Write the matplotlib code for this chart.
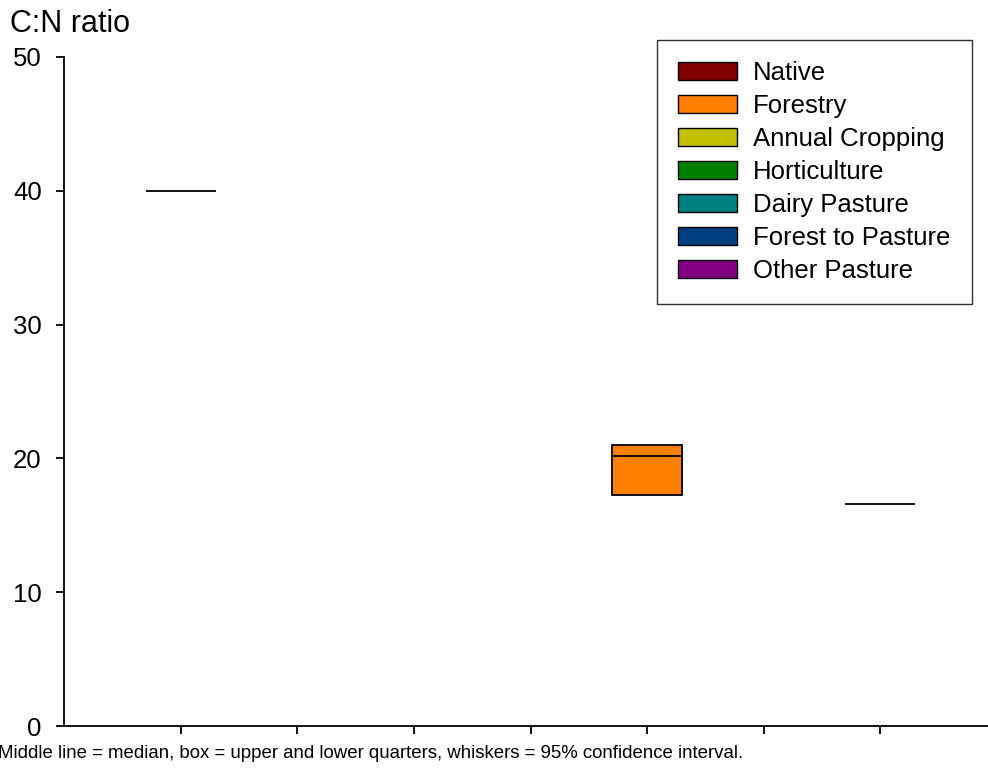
import matplotlib

matplotlib.use("Agg")
import matplotlib.pyplot as plt
from matplotlib.patches import Patch

plt.rcParams["font.family"] = ["Liberation Sans", "DejaVu Sans"]

# legend entries and their fill colours
land_uses = ["Native", "Forestry", "Annual Cropping", "Horticulture",
             "Dairy Pasture", "Forest to Pasture", "Other Pasture"]
colours = ["#800000", "#ff8000", "#c0c000", "#008000",
           "#008080", "#004080", "#800080"]

# boxes that have data: x slot, land use, lower quarter, median, upper quarter
box_slot = [1, 5, 7]
box_use = ["Native", "Forestry", "Other Pasture"]
q1 = [40.0, 17.3, 16.6]
median = [40.0, 20.2, 16.6]
q3 = [40.0, 21.0, 16.6]

BOX_W = 0.6

fig = plt.figure(figsize=(9.88, 7.69), dpi=100)
ax = fig.add_axes([64 / 988, 43 / 769, 933 / 988, 669 / 769])

colour_of = dict(zip(land_uses, colours))
for x, use, lo, mid, hi in zip(box_slot, box_use, q1, median, q3):
    if hi > lo:
        ax.bar(x, hi - lo, bottom=lo, width=BOX_W, color=colour_of[use],
               edgecolor="black", linewidth=1.3, zorder=2)
    ax.plot([x - BOX_W / 2, x + BOX_W / 2], [mid, mid], color="black",
            lw=1.3, solid_capstyle="butt", zorder=3)

ax.set_xlim(0, 8)
ax.set_ylim(0, 50)
ax.set_xticks(range(1, 8))
ax.set_xticklabels([])
ax.set_yticks(range(0, 51, 10))
ax.tick_params(direction="out", length=6, width=1.3, labelsize=18.5, pad=10)
for side in ("top", "right"):
    ax.spines[side].set_visible(False)
for side in ("left", "bottom"):
    ax.spines[side].set_linewidth(1.3)

fig.text(10 / 988, 0.988, "C:N ratio", fontsize=22, ha="left", va="top")
fig.text(-0.002, 0.009, "Middle line = median, box = upper and lower quarters, "
         "whiskers = 95% confidence interval.", fontsize=13.45, ha="left",
         va="bottom")

handles = [Patch(facecolor=c, edgecolor="black", linewidth=1.0, label=n)
           for n, c in zip(land_uses, colours)]
leg = fig.legend(handles=handles, loc="upper left",
                 bbox_to_anchor=(657 / 988, 1 - 40 / 769), fontsize=18.5,
                 frameon=True, fancybox=False, edgecolor="black",
                 handlelength=2.3, handleheight=0.74, handletextpad=0.62,
                 labelspacing=0.35, borderpad=0.82, borderaxespad=0)
leg.get_frame().set_linewidth(1.0)

fig.savefig("out.png", dpi=100)
